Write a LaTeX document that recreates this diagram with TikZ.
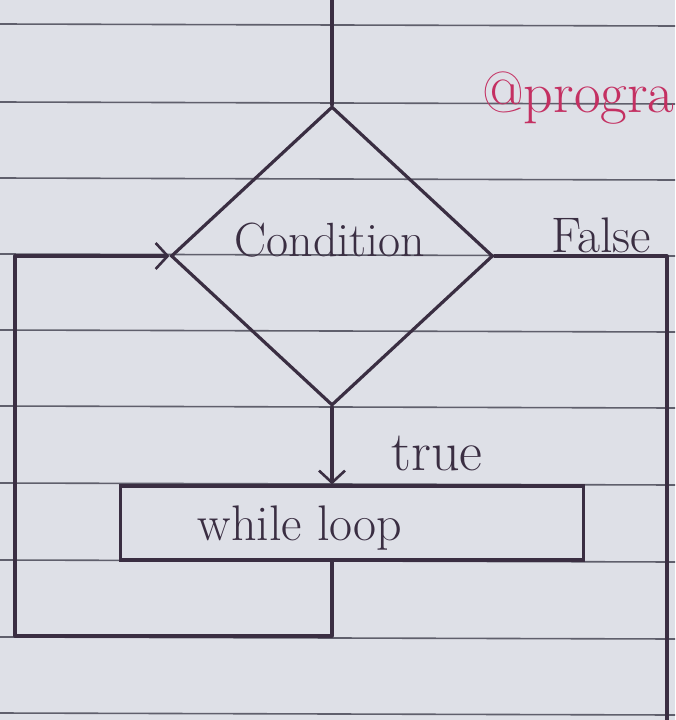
\documentclass[tikz,border=0pt]{standalone}
\usetikzlibrary{shapes.geometric,arrows.meta}
\definecolor{paper}{RGB}{222,224,231}
\definecolor{rule}{RGB}{95,95,108}
\definecolor{ink}{RGB}{58,46,66}
\definecolor{pinkink}{RGB}{196,48,98}
\tikzset{
  ruled/.style={rule, line width=1.6pt},
  inkline/.style={ink, line width=3.2pt, line cap=round, line join=round},
  barb/.style={-{Straight Barb[length=12pt,width=26pt,line width=2.6pt]}},
  lbl/.style={ink, inner sep=0pt},
}
\begin{document}
\begin{tikzpicture}[x=1pt,y=-1pt]
\useasboundingbox (0,0) rectangle (675,720);
\clip (0,0) rectangle (675,720);
\fill[paper] (0,0) rectangle (675,720);
% ruled paper lines
\foreach \y in {24,102,178,254,330,406,483,560,637,713}
  \draw[ruled] (0,\y) -- (675,\y+2);
% pink signature
\node[pinkink, anchor=base west, inner sep=0pt, font=\fontsize{58}{58}\selectfont] (sig) at (482,112) {@progra};
% diamond
\node[diamond, draw=ink, line width=3.2pt, minimum width=322pt, minimum height=299pt, inner sep=0pt] (cond) at (332,256) {};
\node[lbl, font=\fontsize{48}{48}\selectfont] (condtxt) at (330,240) {Condition};
% box
\node[draw=ink, line width=3.2pt, rectangle, minimum width=463pt, minimum height=74pt, inner sep=0pt] (loop) at (352,523) {};
\node[lbl, font=\fontsize{50}{50}\selectfont] (looptxt) at (300,528) {while loop};
% labels
\node[lbl, font=\fontsize{50}{50}\selectfont] (falsetxt) at (601,235) {False};
\node[lbl, font=\fontsize{56}{56}\selectfont] (truetxt) at (437,453) {true};
% coordinates
\coordinate (top) at (332,0);
\coordinate (bl) at (332,636);
\coordinate (ll) at (15,636);
\coordinate (lu) at (15,256);
\coordinate (ru) at (667,256);
\coordinate (rd) at (667,720);
% connectors
\draw[inkline] (top) -- (cond.north);
\draw[inkline, barb] (cond.south) -- (cond.south |- loop.north);
\draw[inkline] (loop.south -| bl) -- (bl) -- (ll) -- (lu);
\draw[inkline, barb] (lu) -- (cond.west);
\draw[inkline] (cond.east) -- (ru) -- (rd);
\end{tikzpicture}
\end{document}
